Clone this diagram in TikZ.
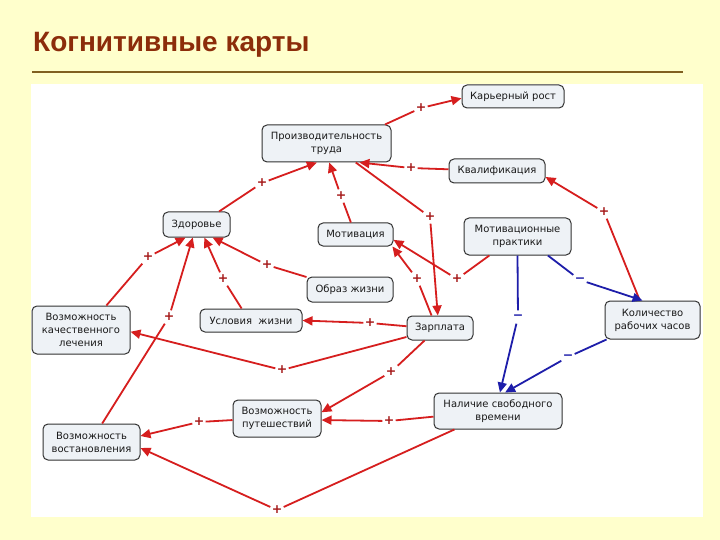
\documentclass[tikz,border=0pt]{standalone}
\usepackage{fontspec}
\setmainfont{DejaVu Sans}
\newfontfamily\titlefont{Liberation Sans}
\usetikzlibrary{arrows.meta}

\definecolor{bgyellow}{RGB}{255,255,204}
\definecolor{titlecol}{RGB}{140,45,10}
\definecolor{rulecol}{RGB}{128,96,32}
\definecolor{nodefill}{RGB}{238,242,246}
\definecolor{nodeline}{RGB}{50,50,50}
\definecolor{redline}{RGB}{214,30,30}
\definecolor{redlabel}{RGB}{165,25,25}
\definecolor{blueline}{RGB}{30,30,170}

\begin{document}
\begin{tikzpicture}[x=1pt,y=-1pt,
  concept/.style={draw=nodeline, line width=1pt, fill=nodefill, rounded corners=5pt,
    align=center, font=\fontsize{10}{13}\selectfont, text=black!90, inner sep=0pt},
  plabel/.style={text=redlabel, font=\fontsize{12.5}{12.5}\selectfont\bfseries,
    inner sep=1pt, minimum width=13pt, minimum height=13pt},
  mlabel/.style={text=blueline, font=\fontsize{12.5}{12.5}\selectfont\bfseries,
    inner sep=1pt, minimum width=13pt, minimum height=13pt},
  redlink/.style={draw=redline, line width=1.8pt},
  redarrow/.style={redlink, -{Triangle[length=10pt,width=9pt]}},
  bluelink/.style={draw=blueline, line width=1.8pt},
  bluearrow/.style={bluelink, -{Triangle[length=10pt,width=9pt]}},
  titletext/.style={anchor=base west, inner sep=0pt, text=titlecol,
    font=\titlefont\bfseries\fontsize{28}{28}\selectfont}
]
\useasboundingbox (0,0) rectangle (720,540);
\fill[bgyellow] (0,0) rectangle (720,540);
\fill[white] (31,84) rectangle (703,517);

\node[titletext] (title) at (33,52) {Когнитивные карты};
\coordinate (ruleL) at (32,72);
\coordinate (ruleR) at (683,72);
\draw[rulecol, line width=2.5pt] (ruleL) -- (ruleR);

% concepts
\node[concept, minimum width=102pt, minimum height=23pt] (kar) at (513,96.5) {Карьерный рост};
\node[concept, minimum width=129pt, minimum height=37pt] (pro) at (326.5,143.5) {Производительность\\труда};
\node[concept, minimum width=96pt, minimum height=24pt] (kval) at (497,171) {Квалификация};
\node[concept, minimum width=67pt, minimum height=25pt] (zdr) at (196.5,224.5) {Здоровье};
\node[concept, minimum width=75pt, minimum height=23pt] (mot) at (355.5,234.5) {Мотивация};
\node[concept, minimum width=107pt, minimum height=37pt] (mpr) at (517.5,236.5) {Мотивационные\\практики};
\node[concept, minimum width=86pt, minimum height=25pt] (obr) at (350,289.5) {Образ жизни};
\node[concept, minimum width=102pt, minimum height=23pt] (usl) at (251,320.5) {Условия\ \ жизни};
\node[concept, minimum width=66pt, minimum height=24pt] (zar) at (440,328) {Зарплата};
\node[concept, minimum width=98pt, minimum height=48pt] (lech) at (81,330) {Возможность\\качественного\\лечения};
\node[concept, minimum width=95pt, minimum height=38pt] (kol) at (652.5,320) {Количество\\рабочих часов};
\node[concept, minimum width=128pt, minimum height=36pt] (nal) at (498,411) {Наличие свободного\\времени};
\node[concept, minimum width=88pt, minimum height=37pt] (put) at (277,418.5) {Возможность\\путешествий};
\node[concept, minimum width=97pt, minimum height=36pt] (vos) at (91.5,442) {Возможность\\востановления};

% linking labels
\node[plabel] (L1) at (421,108) {+};
\node[plabel] (L2) at (262,183) {+};
\node[plabel] (L3) at (341,196) {+};
\node[plabel] (L4) at (411,168) {+};
\node[plabel] (L5) at (430,217) {+};
\node[plabel] (L6) at (604,212) {+};
\node[plabel] (L7) at (148,257) {+};
\node[plabel] (L8) at (169,317) {+};
\node[plabel] (L9) at (223,279) {+};
\node[plabel] (L10) at (267,265) {+};
\node[plabel] (L11) at (417,279) {+};
\node[plabel] (L12) at (457,279) {+};
\node[plabel] (L13) at (370,323) {+};
\node[plabel] (L14) at (282,370) {+};
\node[plabel] (L15) at (391,372) {+};
\node[plabel] (L16) at (389,421) {+};
\node[plabel] (L17) at (199,422) {+};
\node[plabel] (L18) at (277,510) {+};
\node[mlabel] (B1) at (518,317) {−};
\node[mlabel] (B2) at (580,280) {−};
\node[mlabel] (B3) at (568,357) {−};

% red connectors
\draw[redlink] (pro.18) -- (L1);   \draw[redarrow] (L1) -- (kar.182);
\draw[redlink] (zdr.30) -- (L2);   \draw[redarrow] (L2) -- (pro.243);
\draw[redlink] (mot.111) -- (L3);  \draw[redarrow] (L3) -- (pro.278);
\draw[redlink] (kval.178) -- (L4); \draw[redarrow] (L4) -- (pro.330);
\draw[redlink] (pro.327) -- (L5);  \draw[redarrow] (L5) -- (zar.100);
\draw[redlink] (kol.123) -- (L6);  \draw[redarrow] (L6) -- (kval.353);
\draw[redlink] (lech.44) -- (L7);  \draw[redarrow] (L7) -- (zdr.230);
\draw[redlink] (vos.60) -- (L8);   \draw[redarrow] (L8) -- (zdr.254);
\draw[redlink] (usl.128) -- (L9);  \draw[redarrow] (L9) -- (zdr.301);
\draw[redlink] (obr.164) -- (L10); \draw[redarrow] (L10) -- (zdr.321);
\draw[redlink] (zar.124) -- (L11); \draw[redarrow] (L11) -- (mot.342);
\draw[redlink] (mpr.214) -- (L12); \draw[redarrow] (L12) -- (mot.352);
\draw[redlink] (zar.177) -- (L13); \draw[redarrow] (L13) -- (usl.east);
\draw[redlink] (zar.195) -- (L14); \draw[redarrow] (L14) -- (lech.358);
\draw[redlink] (zar.219) -- (L15); \draw[redarrow] (L15) -- (put.8);
\draw[redlink] (nal.185) -- (L16); \draw[redarrow] (L16) -- (put.358);
\draw[redlink] (put.182) -- (L17); \draw[redarrow] (L17) -- (vos.7);
\draw[redlink] (nal.203) -- (L18); \draw[redarrow] (L18) -- (vos.353);

% blue connectors
\draw[bluelink] (mpr.270) -- (B1); \draw[bluearrow] (B1) -- (nal.84);
\draw[bluelink] (mpr.328) -- (B2); \draw[bluearrow] (B2) -- (kol.117);
\draw[bluelink] (kol.203) -- (B3); \draw[bluearrow] (B3) -- (nal.69);
\end{tikzpicture}
\end{document}
